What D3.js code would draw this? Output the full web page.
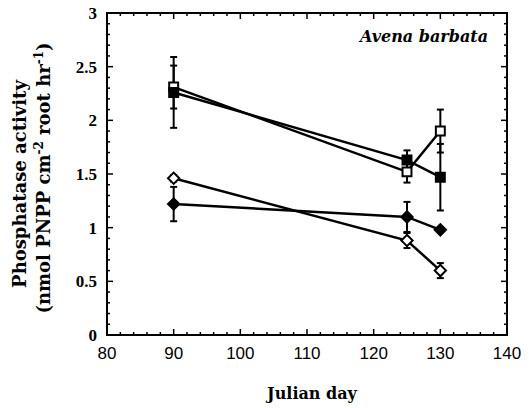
<!DOCTYPE html>
<html>
<head>
<meta charset="utf-8">
<script src="https://cdn.jsdelivr.net/npm/d3@7"></script>
<style>
  body { margin: 0; background: #fff; }
  svg { display: block; }
  .title { font-family: "DejaVu Serif", serif; font-weight: bold; }
  .serif { font-family: "Liberation Serif", "Times New Roman", serif; }
  .sans { font-family: "Liberation Sans", Arial, sans-serif; }
</style>
</head>
<body>
<svg id="chart" width="529" height="408"></svg>
<script>
'use strict';

// data
var days = [90, 125, 130];
var openSquare   = [2.31, 1.52, 1.90],
    openSquareE  = [0.20, 0.10, 0.20];
var fillSquare   = [2.26, 1.63, 1.47],
    fillSquareE  = [0.33, 0.09, 0.31];
var openDiamond  = [1.46, 0.88, 0.60],
    openDiamondE = [0.03, 0.07, 0.07];
var fillDiamond  = [1.22, 1.10, 0.98],
    fillDiamondE = [0.16, 0.14, 0.02];
var xTicks = [80, 90, 100, 110, 120, 130, 140];
var yTicks = [0, 0.5, 1, 1.5, 2, 2.5, 3];

var series = [
  {shape: "square",  filled: false, values: openSquare,  err: openSquareE},
  {shape: "square",  filled: true,  values: fillSquare,  err: fillSquareE},
  {shape: "diamond", filled: false, values: openDiamond, err: openDiamondE},
  {shape: "diamond", filled: true,  values: fillDiamond, err: fillDiamondE}
];

var svg = d3.select("#chart"),
    margin = {top: 13, right: 22, bottom: 73, left: 107},
    width  = 529 - margin.left - margin.right,
    height = 408 - margin.top - margin.bottom;

var x = d3.scaleLinear().domain([80, 140]).range([0, width]),
    y = d3.scaleLinear().domain([0, 3]).range([height, 0]);

var g = svg.append("g")
    .attr("transform", "translate(" + margin.left + "," + margin.top + ")");

// inward ticks on all four sides
var xMinor = d3.range(80, 141, 2),
    yMinor = d3.range(0, 3.001, 0.1);

function tickLen(v, step) { return Math.abs(v / step - Math.round(v / step)) < 1e-6 ? 6 : 3; }

g.selectAll(".xtb").data(xMinor).enter().append("line")
    .attr("x1", function(d) { return x(d); }).attr("x2", function(d) { return x(d); })
    .attr("y1", height).attr("y2", function(d) { return height - tickLen(d, 10); })
    .attr("stroke", "#000").attr("stroke-width", 1.5);
g.selectAll(".xtt").data(xMinor).enter().append("line")
    .attr("x1", function(d) { return x(d); }).attr("x2", function(d) { return x(d); })
    .attr("y1", 0).attr("y2", function(d) { return tickLen(d, 10); })
    .attr("stroke", "#000").attr("stroke-width", 1.5);
g.selectAll(".ytl").data(yMinor).enter().append("line")
    .attr("y1", function(d) { return y(d); }).attr("y2", function(d) { return y(d); })
    .attr("x1", 0).attr("x2", function(d) { return tickLen(d, 0.5); })
    .attr("stroke", "#000").attr("stroke-width", 1.5);
g.selectAll(".ytr").data(yMinor).enter().append("line")
    .attr("y1", function(d) { return y(d); }).attr("y2", function(d) { return y(d); })
    .attr("x1", width).attr("x2", function(d) { return width - tickLen(d, 0.5); })
    .attr("stroke", "#000").attr("stroke-width", 1.5);

g.append("rect")
    .attr("width", width).attr("height", height)
    .attr("fill", "none").attr("stroke", "#000").attr("stroke-width", 2);

// tick labels
g.selectAll(".xl").data(xTicks).enter().append("text")
    .attr("class", "sans")
    .attr("x", function(d) { return x(d); })
    .attr("y", height + 24)
    .attr("text-anchor", "middle")
    .style("font-size", "17px")
    .text(function(d) { return d; });

g.selectAll(".yl").data(yTicks).enter().append("text")
    .attr("class", "serif")
    .attr("x", -10)
    .attr("y", function(d) { return y(d); })
    .attr("dy", "0.35em")
    .attr("text-anchor", "end")
    .style("font-size", "17px")
    .style("font-weight", "bold")
    .text(function(d) { return d; });

// lines, error bars, markers
var line = d3.line()
    .x(function(d, i) { return x(days[i]); })
    .y(function(d) { return y(d); });

series.forEach(function(s) {
  g.append("path")
      .attr("d", line(s.values))
      .attr("fill", "none")
      .attr("stroke", "#000")
      .attr("stroke-width", 2.5);

  s.values.forEach(function(v, i) {
    var cx = x(days[i]), hi = y(v + s.err[i]), lo = y(v - s.err[i]);
    g.append("line").attr("x1", cx).attr("x2", cx).attr("y1", hi).attr("y2", lo)
        .attr("stroke", "#000").attr("stroke-width", 2);
    [hi, lo].forEach(function(yy) {
      g.append("line").attr("x1", cx - 3.5).attr("x2", cx + 3.5).attr("y1", yy).attr("y2", yy)
          .attr("stroke", "#000").attr("stroke-width", 2);
    });
  });
});

series.forEach(function(s) {
  var sym = d3.symbol().type(d3.symbolSquare).size(s.shape == "square" ? 80 : 64);
  g.selectAll(null).data(s.values).enter().append("path")
      .attr("d", sym)
      .attr("transform", function(d, i) {
        return "translate(" + x(days[i]) + "," + y(d) + ")" + (s.shape == "diamond" ? " rotate(45)" : "");
      })
      .attr("fill", s.filled ? "#000" : "#fff")
      .attr("stroke", "#000")
      .attr("stroke-width", 2);
});

// annotation
g.append("text")
    .attr("class", "title")
    .attr("x", width - 19)
    .attr("y", 29)
    .attr("text-anchor", "end")
    .style("font-size", "16px")
    .style("font-style", "italic")
    .text("Avena barbata");

// axis titles
svg.append("text")
    .attr("class", "title")
    .attr("x", 312)
    .attr("y", 399)
    .attr("text-anchor", "middle")
    .style("font-size", "16px")
    .text("Julian day");

svg.append("text")
    .attr("class", "title")
    .attr("transform", "translate(26,184) rotate(-90)")
    .attr("text-anchor", "middle")
    .style("font-size", "18px")
    .text("Phosphatase activity");
var t2 = svg.append("text")
    .attr("class", "title")
    .attr("transform", "translate(50,178) rotate(-90)")
    .attr("text-anchor", "middle")
    .style("font-size", "18px");
t2.append("tspan").text("(nmol PNPP cm");
t2.append("tspan").attr("dy", -7).style("font-size", "12px").text("-2");
t2.append("tspan").attr("dy", 7).text(" root hr");
t2.append("tspan").attr("dy", -7).style("font-size", "12px").text("-1");
t2.append("tspan").attr("dy", 7).text(")");
</script>
</body>
</html>
